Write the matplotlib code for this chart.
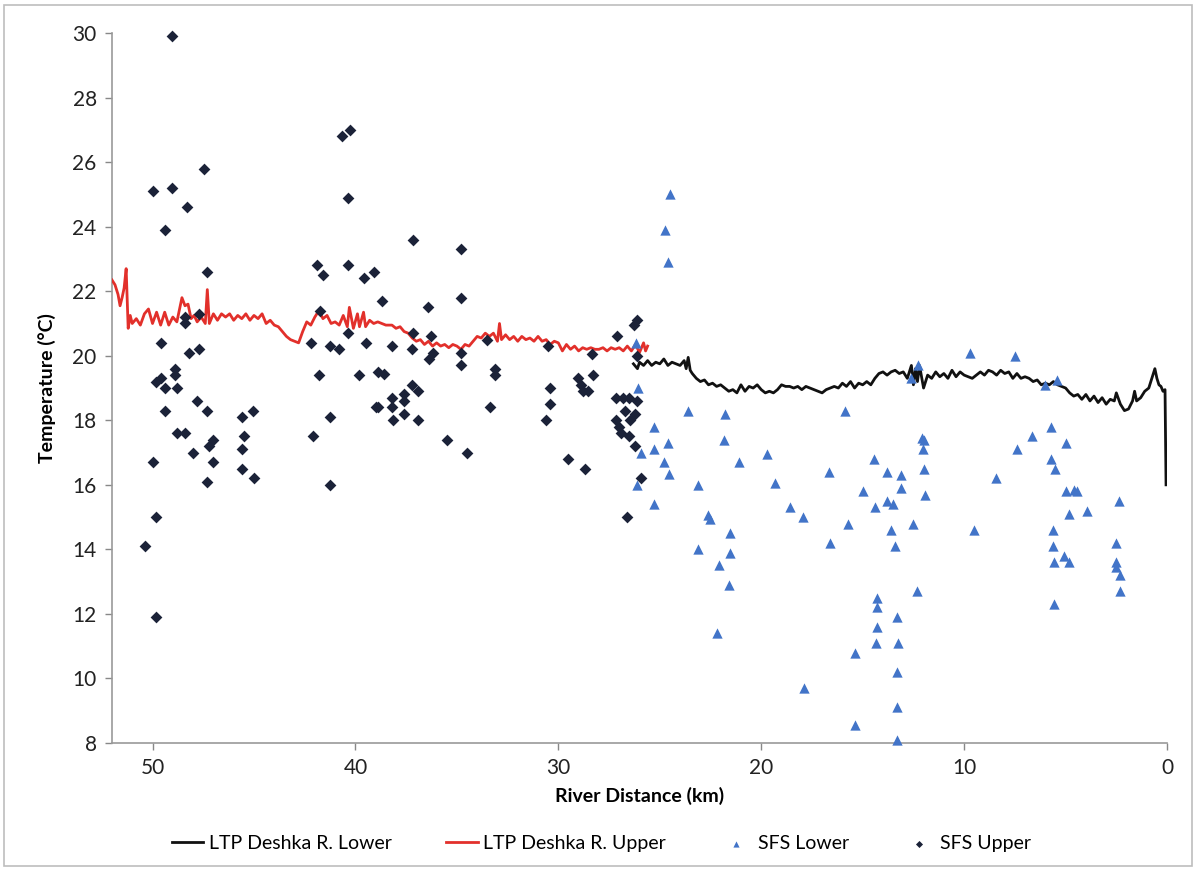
import matplotlib
matplotlib.use("Agg")
import matplotlib.pyplot as plt
from matplotlib.patches import Rectangle

plt.rcParams['font.family'] = ['Lato', 'DejaVu Sans']

# ---- LTP Deshka R. Upper (red line) ----
upper_km = [52.0, 51.85, 51.7, 51.6, 51.5, 51.4, 51.3, 51.2, 51.1, 51.0, 50.8, 50.6, 50.4, 50.2,
            50.0, 49.8, 49.6, 49.4, 49.2, 49.0, 48.8, 48.55, 48.4, 48.25, 48.1, 47.95, 47.8, 47.6,
            47.4, 47.3, 47.2, 47.0, 46.8, 46.6, 46.4, 46.2, 46.0, 45.8, 45.6, 45.4, 45.2, 45.0,
            44.8, 44.6, 44.4, 44.2, 44.0, 43.8, 43.6, 43.4, 43.2, 43.0, 42.8, 42.6, 42.4, 42.2,
            42.0, 41.8, 41.6, 41.4, 41.2, 41.0, 40.8, 40.6, 40.4, 40.3, 40.1, 39.9, 39.8, 39.6,
            39.5, 39.3, 39.1, 38.9, 38.7, 38.5, 38.2, 38.0, 37.8, 37.6, 37.4, 37.2, 37.0, 36.8,
            36.6, 36.4, 36.2, 36.0, 35.8, 35.6, 35.4, 35.2, 35.0, 34.8, 34.6, 34.4, 34.2, 34.0,
            33.8, 33.6, 33.4, 33.2, 33.0, 32.9, 32.8, 32.6, 32.4, 32.2, 32.0, 31.8, 31.6, 31.4,
            31.2, 31.0, 30.8, 30.6, 30.4, 30.2, 30.0, 29.8, 29.6, 29.4, 29.2, 29.0, 28.8, 28.6,
            28.4, 28.2, 28.0, 27.8, 27.6, 27.4, 27.2, 27.0, 26.8, 26.6, 26.4, 26.2, 26.0, 25.8,
            25.7, 25.6]
upper_temp = [22.35, 22.2, 21.9, 21.55, 21.8, 22.1, 22.7, 20.85, 21.25, 21.0, 21.15, 20.95, 21.3, 21.45,
              21.0, 21.35, 20.95, 21.35, 20.95, 21.2, 21.05, 21.8, 21.55, 21.6, 21.15, 21.25, 21.05, 21.2,
              21.0, 22.05, 21.0, 21.3, 21.1, 21.3, 21.2, 21.3, 21.1, 21.25, 21.15, 21.3, 21.1, 21.25,
              21.15, 21.3, 21.0, 21.1, 20.95, 20.9, 20.75, 20.6, 20.5, 20.45, 20.4, 20.75, 21.05, 20.95,
              21.2, 21.4, 21.15, 21.25, 21.0, 21.05, 20.95, 21.25, 20.9, 21.5, 20.85, 21.3, 20.9, 21.35,
              20.9, 21.1, 21.0, 21.05, 21.0, 20.95, 20.95, 20.85, 20.9, 20.75, 20.7, 20.55, 20.45, 20.5,
              20.35, 20.45, 20.3, 20.4, 20.3, 20.35, 20.25, 20.35, 20.3, 20.2, 20.35, 20.3, 20.45, 20.6,
              20.55, 20.7, 20.6, 20.7, 20.45, 21.0, 20.5, 20.65, 20.5, 20.6, 20.45, 20.6, 20.5, 20.55,
              20.45, 20.6, 20.45, 20.5, 20.35, 20.45, 20.4, 20.15, 20.35, 20.2, 20.3, 20.15, 20.25, 20.2,
              20.25, 20.2, 20.2, 20.25, 20.15, 20.25, 20.2, 20.25, 20.15, 20.3, 20.15, 20.35, 20.1, 20.4,
              20.15, 20.3]

# ---- LTP Deshka R. Lower (black line) ----
lower_km = [26.3, 26.1, 26.0, 25.8, 25.6, 25.4, 25.2, 25.0, 24.8, 24.6, 24.4, 24.2, 24.0, 23.8,
            23.7, 23.6, 23.5, 23.4, 23.2, 23.0, 22.8, 22.6, 22.4, 22.2, 22.0, 21.8, 21.6, 21.4,
            21.2, 21.0, 20.8, 20.6, 20.4, 20.2, 20.0, 19.8, 19.6, 19.4, 19.2, 19.0, 18.8, 18.6,
            18.4, 18.2, 18.0, 17.8, 17.6, 17.4, 17.2, 17.0, 16.8, 16.6, 16.4, 16.2, 16.0, 15.8,
            15.6, 15.4, 15.2, 15.0, 14.8, 14.6, 14.4, 14.2, 14.0, 13.8, 13.6, 13.4, 13.2, 13.0,
            12.8, 12.6, 12.5, 12.4, 12.3, 12.2, 12.0, 11.8, 11.6, 11.4, 11.2, 11.0, 10.8, 10.6,
            10.4, 10.2, 10.0, 9.8, 9.6, 9.4, 9.2, 9.0, 8.8, 8.6, 8.4, 8.2, 8.0, 7.8, 7.6, 7.4,
            7.2, 7.0, 6.8, 6.6, 6.4, 6.2, 6.0, 5.8, 5.6, 5.4, 5.2, 5.0, 4.8, 4.6, 4.4, 4.2, 4.0,
            3.8, 3.6, 3.4, 3.2, 3.0, 2.8, 2.6, 2.5, 2.3, 2.1, 1.9, 1.7, 1.6, 1.5, 1.3, 1.1, 0.9,
            0.75, 0.6, 0.5, 0.4, 0.3, 0.2, 0.1, 0.05]
lower_temp = [19.75, 19.6, 19.8, 19.7, 19.85, 19.7, 19.8, 19.75, 19.9, 19.7, 19.8, 19.75, 19.7, 19.85,
              19.6, 19.95, 19.55, 19.45, 19.3, 19.2, 19.25, 19.1, 19.15, 19.05, 19.1, 19.0, 18.9, 18.95,
              18.85, 19.1, 18.9, 19.05, 19.0, 19.1, 18.95, 18.85, 18.9, 18.85, 18.95, 19.1, 19.05, 19.05,
              19.0, 19.05, 18.95, 19.05, 19.0, 18.95, 18.9, 18.85, 18.95, 19.0, 19.05, 19.0, 19.15, 19.05,
              19.2, 19.0, 19.15, 19.1, 19.2, 19.1, 19.3, 19.45, 19.5, 19.4, 19.5, 19.55, 19.45, 19.5,
              19.3, 19.7, 19.1, 19.6, 19.2, 19.7, 19.0, 19.4, 19.3, 19.5, 19.35, 19.45, 19.3, 19.55,
              19.35, 19.5, 19.4, 19.35, 19.3, 19.4, 19.5, 19.4, 19.55, 19.5, 19.4, 19.55, 19.45, 19.5, 19.3, 19.45,
              19.3, 19.35, 19.3, 19.2, 19.25, 19.1, 19.15, 19.1, 19.2, 19.1, 19.05, 19.0, 18.85, 18.75, 18.8, 18.65, 18.8,
              18.6, 18.75, 18.55, 18.7, 18.5, 18.65, 18.6, 18.85, 18.5, 18.3, 18.35, 18.6, 18.9, 18.6, 18.7, 18.9, 19.0,
              19.3, 19.6, 19.3, 19.1, 19.05, 18.9, 18.95, 16.0]

# ---- SFS Lower (blue triangles) ----
sfs_lower_km = [24.5, 24.75, 24.6, 26.15, 26.05, 23.6, 21.8, 15.85, 25.3, 24.6, 21.85, 25.95, 25.3, 24.8,
                24.55, 21.1, 19.7, 16.65, 14.45, 13.8, 13.1, 26.1, 23.1, 19.3, 15.0, 13.1, 25.3, 22.6,
                22.55, 18.6, 17.95, 15.7, 14.4, 13.8, 13.5, 13.6, 13.4, 21.55, 23.1, 21.55, 16.6, 22.1,
                21.6, 22.2, 14.3, 14.3, 13.3, 14.3, 14.35, 13.25, 15.4, 13.3, 17.9, 13.3, 15.4, 13.3,
                9.7, 7.5, 12.25, 12.6, 6.0, 5.4, 5.7, 6.65, 5.0, 7.4, 12.0, 12.1, 12.05, 12.0, 11.95,
                5.7, 5.5, 8.45, 5.0, 4.6, 4.45, 2.35, 4.85, 3.95, 12.5, 9.5, 5.6, 5.6, 2.5, 5.1, 5.55,
                4.85, 2.5, 2.5, 2.3, 2.3, 12.3, 5.55]
sfs_lower_temp = [25.0, 23.9, 22.9, 20.4, 19.0, 18.3, 18.2, 18.3, 17.8, 17.3, 17.4, 17.0, 17.1, 16.7,
                  16.35, 16.7, 16.95, 16.4, 16.8, 16.4, 16.3, 16.0, 16.0, 16.05, 15.8, 15.9, 15.4, 15.05,
                  14.95, 15.3, 15.0, 14.8, 15.3, 15.5, 15.4, 14.6, 14.1, 14.5, 14.0, 13.9, 14.2, 13.5,
                  12.9, 11.4, 12.5, 12.2, 11.9, 11.6, 11.1, 11.1, 10.8, 10.2, 9.7, 9.1, 8.55, 8.1,
                  20.1, 20.0, 19.7, 19.3, 19.1, 19.25, 17.8, 17.5, 17.3, 17.1, 17.4, 17.45, 17.1, 16.5, 15.7,
                  16.8, 16.5, 16.2, 15.8, 15.85, 15.8, 15.5, 15.1, 15.2, 14.8, 14.6, 14.6, 14.1, 14.2, 13.8, 13.6,
                  13.6, 13.6, 13.45, 13.2, 12.7, 12.7, 12.3]

# ---- SFS Upper (navy diamonds) ----
sfs_upper_km = [49.06, 50.0, 49.06, 47.47, 48.3, 49.4, 47.3, 40.64, 40.26, 40.36, 41.87, 41.62, 40.36,
                39.57, 39.08, 38.7, 41.76, 40.36, 42.2, 41.25, 40.8, 39.5, 38.2, 49.6, 48.4, 48.4, 47.7,
                48.2, 47.7, 48.9, 49.6, 41.8, 39.8, 38.9, 38.6,
                49.85, 48.9, 49.4, 48.8, 49.4, 47.8, 47.3, 48.8, 48.4, 48.0, 47.0, 47.2, 47.0, 47.3,
                49.97, 49.85, 50.36, 49.85, 45.6, 45.05, 45.5, 45.6, 45.6, 45.0, 41.25, 42.1, 41.25,
                39.0, 38.9, 38.2, 38.2, 38.15,
                37.15, 34.8, 34.8, 36.4, 37.15, 37.2, 36.3, 36.2, 36.35, 34.8, 34.8, 33.5, 33.1, 33.1,
                37.2, 36.9, 37.6, 37.6, 37.6, 36.9, 33.35, 35.5, 34.5, 30.5, 30.4, 30.4, 30.6, 29.5,
                28.7, 28.35, 28.3, 29.05, 28.9, 28.8, 28.55, 27.1, 26.1, 26.25, 26.1, 27.15, 26.8, 26.5,
                26.1, 26.7, 26.2, 27.15, 27.0, 26.45, 26.9, 26.5, 26.2, 25.95, 26.6]
sfs_upper_temp = [29.9, 25.1, 25.2, 25.8, 24.6, 23.9, 22.6, 26.8, 27.0, 24.9, 22.8, 22.5, 22.8,
                  22.4, 22.6, 21.7, 21.4, 20.7, 20.4, 20.3, 20.2, 20.4, 20.3, 20.4, 21.2, 21.0, 21.3,
                  20.1, 20.2, 19.6, 19.3, 19.4, 19.4, 19.5, 19.45,
                  19.2, 19.4, 19.0, 19.0, 18.3, 18.6, 18.3, 17.6, 17.6, 17.0, 17.4, 17.2, 16.7, 16.1,
                  16.7, 15.0, 14.1, 11.9, 18.1, 18.3, 17.5, 17.1, 16.5, 16.2, 18.1, 17.5, 16.0,
                  18.4, 18.4, 18.7, 18.4, 18.0,
                  23.6, 23.3, 21.8, 21.5, 20.7, 20.2, 20.6, 20.1, 19.9, 20.1, 19.7, 20.5, 19.6, 19.4,
                  19.1, 18.9, 18.8, 18.6, 18.2, 18.0, 18.4, 17.4, 17.0, 20.3, 19.0, 18.5, 18.0, 16.8,
                  16.5, 20.05, 19.4, 19.3, 19.1, 18.9, 18.9, 20.6, 21.1, 20.95, 20.0, 18.7, 18.7, 18.7,
                  18.6, 18.3, 18.2, 18.0, 17.8, 18.0, 17.6, 17.5, 17.2, 16.2, 15.0]

y_ticks = [8, 10, 12, 14, 16, 18, 20, 22, 24, 26, 28, 30]
x_ticks = [50, 40, 30, 20, 10, 0]

fig = plt.figure(figsize=(11.96, 8.71), dpi=100)
fig.patches.append(Rectangle((0.003, 0.006), 0.994, 0.988, transform=fig.transFigure,
                             fill=False, edgecolor='#bdbdbd', linewidth=1.2))
ax = fig.add_axes([0.0936, 0.147, 0.8822, 0.815])

ax.plot(lower_km, lower_temp, color='#111111', linewidth=2.0, label='LTP Deshka R. Lower', zorder=3)
ax.plot(upper_km, upper_temp, color='#e2302b', linewidth=2.0, label='LTP Deshka R. Upper', zorder=3)
ax.scatter(sfs_lower_km, sfs_lower_temp, marker='^', s=55, color='#4274c8', linewidths=0,
           label='SFS Lower', zorder=4, clip_on=False)
ax.scatter(sfs_upper_km, sfs_upper_temp, marker='D', s=36, color='#1b2238', linewidths=0,
           label='SFS Upper', zorder=4, clip_on=False)

ax.set_xlim(52, 0)
ax.set_ylim(8, 30)
ax.set_xticks(x_ticks)
ax.set_yticks(y_ticks)
ax.tick_params(axis='both', labelsize=15, colors='#888888', labelcolor='#222222',
               length=5, width=1, direction='out', pad=6)
for side in ['top', 'right']:
    ax.spines[side].set_visible(False)
for side in ['left', 'bottom']:
    ax.spines[side].set_color('#999999')
    ax.spines[side].set_linewidth(1.2)

ax.set_xlabel('River Distance (km)', fontsize=14, fontweight='bold', labelpad=6)
ax.set_ylabel('Temperature (°C)', fontsize=14, fontweight='bold', labelpad=12)

fig.legend(loc='center', bbox_to_anchor=(0.503, 0.032), ncol=4, frameon=False, fontsize=14,
           handlelength=1.6, columnspacing=2.8, handletextpad=0.3, markerscale=0.6)

fig.savefig('out.png', dpi=100, facecolor='white')
